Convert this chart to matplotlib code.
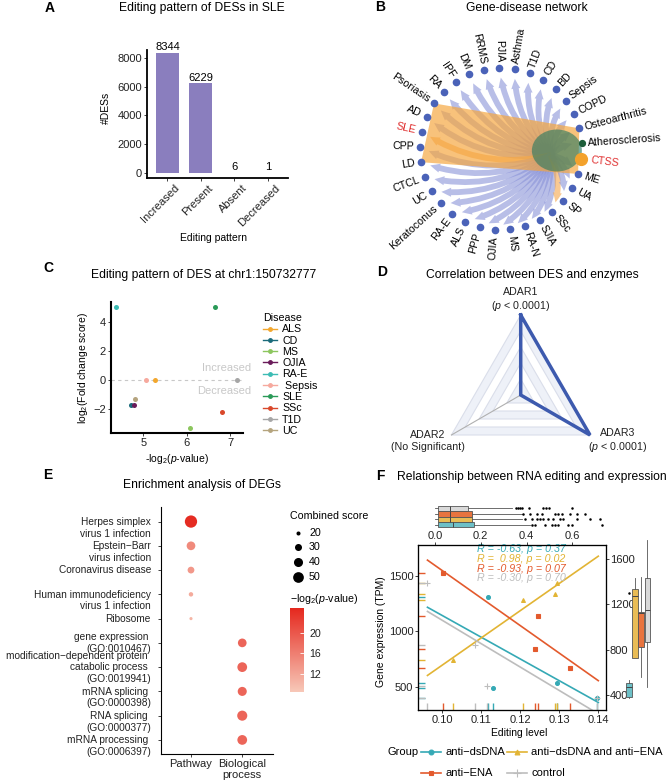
import numpy as np
import matplotlib.pyplot as plt
from matplotlib.patches import FancyArrowPatch, Polygon, Ellipse
from matplotlib.lines import Line2D
from matplotlib.colors import LinearSegmentedColormap, Normalize
from matplotlib.cm import ScalarMappable
from matplotlib.transforms import offset_copy, ScaledTranslation

plt.rcParams['font.family'] = ['Liberation Sans', 'DejaVu Sans']
plt.rcParams['mathtext.fontset'] = 'custom'
plt.rcParams['mathtext.rm'] = 'Liberation Sans'
plt.rcParams['mathtext.it'] = 'Liberation Sans:italic'
plt.rcParams['font.size'] = 7.5
plt.rcParams['axes.linewidth'] = 0.8
for k in ['xtick', 'ytick']:
    plt.rcParams[k + '.major.size'] = 2
    plt.rcParams[k + '.major.width'] = 0.6
    plt.rcParams[k + '.major.pad'] = 1.5
    plt.rcParams[k + '.labelsize'] = 8
    plt.rcParams[k + '.color'] = '#222222'

# ---- A: editing pattern counts
a_cats = ['Increased', 'Present', 'Absent', 'Decreased']
a_counts = [8344, 6229, 6, 1]

# ---- B: gene-disease network (nodes counter-clockwise, starting at the gene)
b_nodes = ['CTSS', 'Atherosclerosis', 'Osteoarthritis', 'COPD', 'Sepsis', 'BD', 'CD',
           'T1D', 'Asthma', 'PJIA', 'RRMS', 'DM', 'IPF', 'RA', 'Psoriasis', 'AD', 'SLE',
           'CPP', 'LD', 'CTCL', 'UC', 'Keratoconus', 'RA-E', 'ALS', 'PPP', 'OJIA', 'MS',
           'RA-N', 'SJIA', 'SSc', 'SP', 'UA', 'ME']
b_red = ['SLE', 'CTSS']
b_orange_edges = ['SLE', 'SSc']
b_hull = ['Psoriasis', 'Osteoarthritis', 'ME', 'LD']

# ---- C: DES at chr1:150732777
c_disease = ['ALS', 'CD', 'MS', 'OJIA', 'RA-E', ' Sepsis', 'SLE', 'SSc', 'T1D', 'UC']
c_logp = [5.27, 4.72, 6.08, 4.79, 4.38, 5.06, 6.66, 6.81, 7.17, 4.81]
c_logfc = [0, -1.7, -3.3, -1.7, 5.0, 0, 5.0, -2.2, 0, -1.32]
c_colors = ['#F2A72E', '#1B6B7B', '#8CC65E', '#6A1B5A', '#3CBCB4', '#F6A99E',
            '#2A9A58', '#D9482B', '#A6A6A6', '#B5A47E']

# ---- D: correlation with enzymes
d_enzymes = ['ADAR1', 'ADAR3', 'ADAR2']
d_values = [1.0, 1.0, 0.0]
d_notes = ['($\\it{p}$ < 0.0001)', '($\\it{p}$ < 0.0001)', '(No Significant)']

# ---- E: enrichment
e_terms = ['Herpes simplex\nvirus 1 infection', 'Epstein\u2212Barr\nvirus infection',
           'Coronavirus disease', 'Human immunodeficiency\nvirus 1 infection', 'Ribosome',
           'gene expression \n(GO:0010467)',
           'modification\u2212dependent protein \ncatabolic process \n(GO:0019941)',
           'mRNA splicing \n(GO:0000398)', 'RNA splicing \n(GO:0000377)',
           'mRNA processing \n(GO:0006397)']
e_type = ['Pathway'] * 5 + ['Biological process'] * 5
e_score = [61, 38, 29, 21, 18, 38, 44, 40, 46, 44]
e_logp = [24.5, 14.8, 13.3, 11.4, 10.4, 18.6, 18.6, 18.6, 18.6, 18.6]
e_first_line = [True, True, False, True, False, False, False, True, True, True]

# ---- F: editing vs expression
f_groups = ['anti\u2212dsDNA', 'anti\u2212dsDNA and anti\u2212ENA', 'anti\u2212ENA', 'control']
f_colors = ['#35A9B5', '#E2B434', '#E35A2D', '#BDBDBD']
f_box_colors = ['#6DC0C7', '#E9BC55', '#E8743F', '#D9D9D9']
f_markers = ['o', '^', 's', '+']
f_x = [[0.1118, 0.1129, 0.1295, 0.1397],
       [0.1028, 0.1208, 0.1289, 0.1293],
       [0.1003, 0.1246, 0.1238, 0.1327],
       [0.0962, 0.1084, 0.1115, 0.1396]]
f_y = [[1307, 491, 531, 401],
       [741, 1283, 1335, 1434],
       [1524, 1139, 838, 672],
       [1440, 877, 506, 400]]
f_stats_text = ['R = -0.63, p = 0.37', 'R =  0.98, p = 0.02',
                'R = -0.93, p = 0.07', 'R = -0.30, p = 0.70']
# top marginal: editing level distribution
top_q1 = [0.014, 0.014, 0.014, 0.014]
top_med = [0.077, 0.065, 0.065, 0.065]
top_q3 = [0.172, 0.163, 0.163, 0.146]
top_whishi = [0.415, 0.38, 0.38, 0.335]
top_fliers = [[0.423, 0.437, 0.481, 0.51, 0.524, 0.539, 0.583, 0.597, 0.729],
              [0.393, 0.423, 0.444, 0.459, 0.473, 0.495, 0.517, 0.546, 0.561, 0.619, 0.677, 0.721],
              [0.386, 0.415, 0.444, 0.466, 0.524, 0.539, 0.554, 0.59, 0.619, 0.656],
              [0.354, 0.363, 0.371, 0.38, 0.41, 0.47, 0.485, 0.50, 0.60]]
# right marginal: expression distribution
right_q1 = [387, 725, 827, 871]
right_med = [475, 1277, 1120, 1150]
right_q3 = [510, 1333, 1136, 1430]
right_whislo = [380, 725, 563, 475]
right_whishi = [530, 1430, 1444, 1767]
right_fliers = [[1303], [], [], []]

W, H = 670, 784
fig = plt.figure(figsize=(W / 100, H / 100), dpi=100)


def px_axes(x0, y0, x1, y1):
    return fig.add_axes([x0 / W, 1 - y1 / H, (x1 - x0) / W, (y1 - y0) / H])


ov = fig.add_axes([0, 0, 1, 1])
ov.set_xlim(0, W)
ov.set_ylim(H, 0)
ov.axis('off')
ov.patch.set_alpha(0)
ov.set_zorder(10)


def T(x, y, s, **kw):
    kw.setdefault('ha', 'center')
    kw.setdefault('va', 'center')
    return ov.text(x, y, s, **kw)


def title(x, y, s):
    T(x, y, s, fontsize=8.7)


def letter(x, y, s):
    T(x, y, s, fontsize=10, fontweight='bold')


# ================= A
axA = px_axes(147, 50, 288, 178)
xa = np.arange(len(a_cats))
axA.bar(xa, a_counts, width=0.69, color='#8A7EBE')
for xi, v in zip(xa, a_counts):
    axA.annotate(f'{v}', (xi, v), xytext=(0, 0.5), textcoords='offset points',
                 ha='center', va='bottom', fontsize=8)
axA.set_xlim(-0.61, 3.6)
axA.set_ylim(-348, 8556)
axA.set_yticks([0, 2000, 4000, 6000, 8000])
axA.set_xticks(xa)
axA.set_xticklabels(a_cats, rotation=45, ha='right', va='top', rotation_mode='anchor')
for lab in axA.get_xticklabels():
    lab.set_transform(lab.get_transform() + ScaledTranslation(7 / 100, 0, fig.dpi_scale_trans))
for s in ['top', 'right']:
    axA.spines[s].set_visible(False)
for s in ['left', 'bottom']:
    axA.spines[s].set_linewidth(1.3)
letter(50, 8, 'A')
title(202, 8, 'Editing pattern of DESs in SLE')
T(213, 238, 'Editing pattern')
T(106, 108, '#DESs', rotation=90)

# ================= B
cx, cy, R = 501, 149, 81
n = len(b_nodes)
ang = -7 + 360 / n * np.arange(n)
rad = np.deg2rad(ang)
pos = {nm: (cx + R * np.cos(r), cy - R * np.sin(r)) for nm, r in zip(b_nodes, rad)}
src = (cx + 0.62 * R * np.cos(rad[0]), cy - 0.62 * R * np.sin(rad[0]))
for nm in b_nodes[1:]:
    col = '#F5A64A' if nm in b_orange_edges else '#8A93D8'
    arr = FancyArrowPatch(src, pos[nm], connectionstyle='arc3,rad=-0.22',
                          arrowstyle='simple,head_length=0.7,head_width=0.65,tail_width=0.42',
                          mutation_scale=10, shrinkA=0, shrinkB=7,
                          facecolor=col, edgecolor='none', alpha=0.6, zorder=2)
    ov.add_patch(arr)
hull = np.array([pos[nm] for nm in b_hull])
ov.add_patch(Polygon(hull, closed=True, facecolor='#F6A53C', edgecolor='none', alpha=0.68, zorder=3))
mid = np.deg2rad(ang[0] + 180 / n)
ov.add_patch(Ellipse((cx + 0.69 * R * np.cos(mid), cy - 0.69 * R * np.sin(mid)), 50, 42,
                     facecolor='#2B7A60', edgecolor='none', alpha=0.62, zorder=4))
for nm, a, r in zip(b_nodes, ang, rad):
    x, y = pos[nm]
    if nm == 'CTSS':
        ov.plot(x, y, 'o', ms=8.5, color='#F3A22C', zorder=5)
        off = 10
    elif nm == 'Atherosclerosis':
        ov.plot(x, y, 'o', ms=4.2, color='#1D5E3A', zorder=5)
        off = 6
    else:
        ov.plot(x, y, 'o', ms=4.5, color='#4A62B8', zorder=5)
        off = 6
    tx, ty = cx + (R + off) * np.cos(r), cy - (R + off) * np.sin(r)
    a = (a + 180) % 360 - 180
    if -90 <= a <= 90:
        rot, ha = a, 'left'
    else:
        rot, ha = a - 180, 'right'
    T(tx, ty, nm, rotation=rot, ha=ha, va='center', rotation_mode='anchor',
      color='#E03030' if nm in b_red else 'black', fontsize=7.7)
letter(380, 7, 'B')
title(527, 8, 'Gene-disease network')

# ================= C
axC = px_axes(111, 302, 243, 433)
axC.axhline(0, color='#C8C8C8', ls=(0, (3, 3)), lw=0.8, zorder=1)
for xv, yv, col in zip(c_logp, c_logfc, c_colors):
    axC.scatter(xv, yv, color=col, s=13, zorder=3, linewidths=0)
axC.set_xlim(4.254, 7.3)
axC.set_ylim(-3.62, 5.35)
axC.set_xticks([5, 6, 7])
axC.set_yticks([-2, 0, 2, 4])
for s in ['top', 'right']:
    axC.spines[s].set_visible(False)
for s in ['left', 'bottom']:
    axC.spines[s].set_linewidth(1.5)
axC.text(7.48, 0.82, 'Increased', ha='right', va='center', color='#C8C8C8', fontsize=8, clip_on=False)
axC.text(7.5, -0.75, 'Decreased', ha='right', va='center', color='#C8C8C8', fontsize=8, clip_on=False)
handles = [Line2D([0], [0], color=c, marker='o', ms=2.5, lw=1) for c in c_colors]
axC.legend(handles, c_disease, title='Disease', loc='upper left', frameon=False,
           bbox_to_anchor=(263 / W, 1 - 313 / H), bbox_transform=fig.transFigure,
           handlelength=1.3, handletextpad=0.5, labelspacing=0.12, borderpad=0,
           borderaxespad=0, fontsize=7.7, title_fontsize=7.7, alignment='left')
letter(48, 268, 'C')
title(204, 275, 'Editing pattern of DES at chr1:150732777')
T(177, 459, '-log$_2$($\\it{p}$-value)')
T(83, 368, 'log$_2$(Fold change score)', rotation=90)

# ================= D
dcx, dcy, dR = 520.7, 395, 80
d_ang = np.deg2rad([90, -30, 210])
levels = [1.0, 0.8, 0.6, 0.4, 0.2]
for i, lv in enumerate(levels):
    tri = np.column_stack([dcx + dR * lv * np.cos(d_ang), dcy - dR * lv * np.sin(d_ang)])
    ov.add_patch(Polygon(tri, closed=True, facecolor='#EEF1F8' if i % 2 == 0 else 'white',
                         edgecolor='#DADEEA', lw=0.8, zorder=2))
for a in d_ang:
    ov.plot([dcx, dcx + dR * np.cos(a)], [dcy, dcy - dR * np.sin(a)], color='#B0B0B0', lw=0.8, zorder=3)
vals = np.array(d_values)
px_ = dcx + dR * vals * np.cos(d_ang)
py_ = dcy - dR * vals * np.sin(d_ang)
ov.plot(np.append(px_, px_[0]), np.append(py_, py_[0]), color='#3D5AAE', lw=2.5, zorder=4,
        solid_joinstyle='miter')
lab_xy = [(dcx, 300), (618, 441), (428, 441)]
for (lx, ly), nm, note in zip(lab_xy, d_enzymes, d_notes):
    T(lx, ly, nm + '\n' + note, multialignment='center', linespacing=1.15, color='#222222', fontsize=7.7)
letter(382, 272, 'D')
title(532, 275, 'Correlation between DES and enzymes')

# ================= E
axE = px_axes(161, 507, 273, 754)
cmap = LinearSegmentedColormap.from_list('e', ['#F7C8B8', '#E5281E'])
norm = Normalize(8.4, 24.9)


def size_fn(score):
    return 1.7 * (np.asarray(score, dtype=float) - 15)


ex = [0 if t == 'Pathway' else 1 for t in e_type]
ey = np.arange(len(e_terms))
axE.scatter(ex, ey, s=size_fn(e_score), c=e_logp, cmap=cmap, norm=norm, linewidths=0, zorder=3)
axE.set_xlim(-0.585, 1.6)
axE.set_ylim(9.58, -0.6)
axE.set_xticks([0, 1])
axE.set_xticklabels(['Pathway', 'Biological\nprocess'])
axE.set_yticks(ey)
axE.set_yticklabels([])
for i, (lab, first) in enumerate(zip(e_terms, e_first_line)):
    nl = lab.count('\n') + 1
    shift = (nl - 1) / 2 * 9 if first else 0
    tr = offset_copy(axE.get_yaxis_transform(), fig=fig, y=-shift, units='points')
    axE.text(-0.09, i, lab, transform=tr, ha='right', va='center', multialignment='right',
             linespacing=1.2, fontsize=7.3, color='#222222')
for s in ['top', 'right']:
    axE.spines[s].set_visible(False)
T(290, 516, 'Combined score', ha='left', fontsize=7.7)
for yy, v in zip([533, 547, 562, 577], [20, 30, 40, 50]):
    ov.scatter(298, yy, s=size_fn(v), color='black', linewidths=0)
    T(309, yy, str(v), ha='left', fontsize=7.7)
T(290, 599, '\u2212log$_2$($\\it{p}$-value)', ha='left', fontsize=7.7)
cax = px_axes(290, 608, 304, 692)
cb = fig.colorbar(ScalarMappable(norm=norm, cmap=cmap), cax=cax, ticks=[12, 16, 20])
cb.outline.set_visible(False)
cax.tick_params(length=3, color='white', direction='in', pad=4, labelsize=7.7)
letter(48, 475, 'E')
title(202, 485, 'Enrichment analysis of DEGs')

# ================= F
axF = px_axes(418.3, 545, 605.7, 710)
all_x = np.concatenate(f_x)
xl = np.linspace(all_x.min(), 0.14, 10)
for gx, gy, col, mk in zip(f_x, f_y, f_colors, f_markers):
    gx, gy = np.array(gx), np.array(gy)
    k, b = np.polyfit(gx, gy, 1)
    axF.plot(xl, k * xl + b, color=col, lw=1.2, zorder=2)
    axF.plot(gx, gy, mk, color=col, ms=2.8 if mk != '+' else 5, mew=0.8, ls='none', zorder=3)
    axF.vlines(gx, 0, 0.045, transform=axF.get_xaxis_transform(), color=col, lw=1)
    axF.hlines(gy, 0, 0.035, transform=axF.get_yaxis_transform(), color=col, lw=1)
axF.set_xlim(0.09385, 0.1419)
axF.set_ylim(290, 1780)
axF.set_xticks([0.10, 0.11, 0.12, 0.13, 0.14])
axF.set_xticklabels(['0.10', '0.11', '0.12', '0.13', '0.14'])
axF.set_yticks([500, 1000, 1500])
for i, (txt, col) in enumerate(zip(f_stats_text, f_colors)):
    axF.text(0.312, 0.974 - i * 0.0588, txt, transform=axF.transAxes, color=col,
             style='italic', ha='left', va='center', fontsize=7.7)
axT = axF.twiny()
axT.set_xlim(-0.073, 0.746)
axT.set_xticks([0, 0.2, 0.4, 0.6])
axT.set_xticklabels(['0.0', '0.2', '0.4', '0.6'])
axT.tick_params(pad=1)
axR = axF.twinx()
axR.set_ylim(270, 1723)
axR.set_yticks([400, 800, 1200, 1600])
axR.tick_params(pad=1)

# top marginal boxplots (order: control, anti-ENA, both, anti-dsDNA from top)
axTB = px_axes(418.3, 505, 605.7, 528)
order = [3, 2, 1, 0]
stats = []
for j in order:
    stats.append(dict(q1=top_q1[j], med=top_med[j], q3=top_q3[j], whislo=0.0,
                      whishi=top_whishi[j], fliers=top_fliers[j]))
bp = axTB.bxp(stats, positions=range(4), widths=1.0, orientation='horizontal', patch_artist=True,
              showfliers=True, medianprops=dict(color='#444444', lw=0.7),
              whiskerprops=dict(color='#555555', lw=0.6), capprops=dict(lw=0),
              boxprops=dict(lw=0.6, edgecolor='#555555'),
              flierprops=dict(marker='.', ms=1.6, mfc='black', mec='black', ls='none'))
for patch, j in zip(bp['boxes'], order):
    patch.set_facecolor(f_box_colors[j])
axTB.set_xlim(-0.073, 0.746)
axTB.set_ylim(3.6, -0.6)
axTB.axis('off')

# right marginal boxplots
axRB = px_axes(625, 545, 651, 710)
rstats = [dict(q1=right_q1[j], med=right_med[j], q3=right_q3[j], whislo=right_whislo[j],
               whishi=right_whishi[j], fliers=right_fliers[j]) for j in range(4)]
bp = axRB.bxp(rstats, positions=range(4), widths=0.9, patch_artist=True,
              medianprops=dict(color='#444444', lw=0.7),
              whiskerprops=dict(color='#555555', lw=0.6), capprops=dict(lw=0),
              boxprops=dict(lw=0.6, edgecolor='#555555'),
              flierprops=dict(marker='.', ms=1.6, mfc='black', mec='black', ls='none'))
for patch, j in zip(bp['boxes'], range(4)):
    patch.set_facecolor(f_box_colors[j])
for art in bp['whiskers']:
    art.set_clip_on(False)
axRB.set_xlim(-0.6, 3.6)
axRB.set_ylim(270, 1723)
axRB.axis('off')

letter(380, 476, 'F')
title(532, 477, 'Relationship between RNA editing and expression')
T(519, 733, 'Editing level')
T(381, 632, 'Gene expression (TPM)', rotation=90)
T(387, 752, 'Group', ha='left', fontsize=8)
leg_xy = [(421, 752), (507, 752), (421, 773), (507, 773)]
for (lx, ly), g, col, mk in zip(leg_xy, f_groups, f_colors, f_markers):
    ov.plot([lx, lx + 20], [ly, ly], color=col, lw=1.2)
    ov.plot(lx + 10, ly, mk, color=col, ms=3.5 if mk != '+' else 6, mew=0.8)
    T(lx + 24, ly, g, ha='left', fontsize=8)

fig.savefig('out.png', dpi=100)
